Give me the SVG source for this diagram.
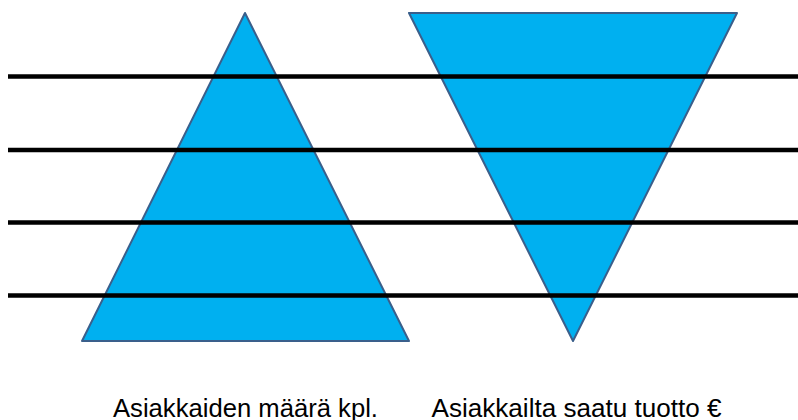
<svg xmlns="http://www.w3.org/2000/svg" width="798" height="420" viewBox="0 0 798 420">
<style>
.tri{fill:#00B0F0;stroke:#3A5F8B;stroke-width:2;stroke-linejoin:round}
.ln{stroke:#000;stroke-width:4.5}
.lbl{font-family:"Liberation Sans Narrow","Liberation Sans",Arial,sans-serif;font-size:25px;fill:#000;text-anchor:middle}
</style>
<rect width="798" height="420" fill="#fff"/>
<g id="pyramid">
<polygon class="tri" points="245,13 409,341 82,341"/>
</g>
<g id="inverted-pyramid">
<polygon class="tri" points="409,13 737,13 573,341"/>
</g>
<g id="lines">
<line class="ln" x1="8" y1="76.5" x2="798" y2="76.5"/>
<line class="ln" x1="8" y1="150" x2="798" y2="150"/>
<line class="ln" x1="8" y1="222.5" x2="798" y2="222.5"/>
<line class="ln" x1="8" y1="295.5" x2="798" y2="295.5"/>
</g>
<g id="labels">
<text class="lbl" x="245.5" y="417" textLength="265" lengthAdjust="spacingAndGlyphs">Asiakkaiden määrä kpl.</text>
<text class="lbl" x="576.5" y="417" textLength="290" lengthAdjust="spacingAndGlyphs">Asiakkailta saatu tuotto €</text>
</g>
</svg>
